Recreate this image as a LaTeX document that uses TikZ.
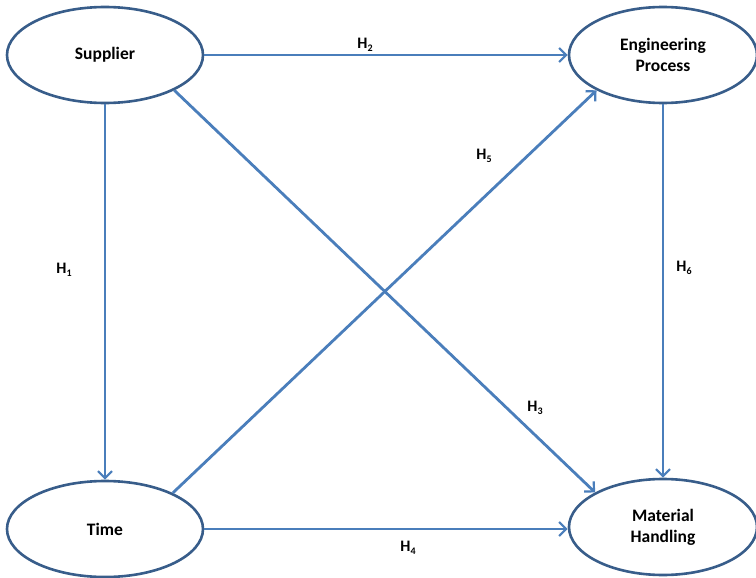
\documentclass[tikz,border=0pt]{standalone}
\usepackage{fontspec}
\setmainfont{Carlito}
\usetikzlibrary{shapes.geometric,arrows.meta}
\definecolor{rim}{RGB}{56,93,138}
\definecolor{link}{RGB}{74,126,187}
\newcommand{\hyp}[1]{H\raisebox{-0.45ex}{\fontsize{10}{10}\selectfont #1}}
\tikzset{
  construct/.style={ellipse, draw=rim, line width=2.6pt, fill=white,
    minimum width=196pt, minimum height=96pt, inner sep=0pt, align=center,
    font=\fontsize{17.5}{21}\selectfont\bfseries},
  path/.style={draw=link, line width=2.8pt,
    -{Straight Barb[length=7pt,width=14pt,line width=2.2pt]}},
  hlabel/.style={font=\fontsize{16}{18}\selectfont\bfseries, inner sep=0pt}
}
\begin{document}
\begin{tikzpicture}[x=1pt,y=-1pt]
  \useasboundingbox (0,0) rectangle (756,578);
  % the four constructs
  \node[construct] (sup) at (105,55) {Supplier};
  \node[construct, minimum width=188pt] (eng) at (663,55) {Engineering\\Process};
  \node[construct] (tim) at (105,529) {Time};
  \node[construct, minimum width=188pt] (mat) at (663,527) {Material\\Handling};
  % hypothesised paths
  \draw[path] (sup.south) -- (tim.north);
  \draw[path] (sup.east) -- (eng.west);
  \draw[path] (sup.-27) -- (mat.153);
  \draw[path] (tim.east) -- (mat.west |- tim.east);
  \draw[path] (tim.28) -- (eng.-152);
  \draw[path] (eng.south) -- (mat.north);
  % path labels
  \node[hlabel] (h1) at (64,270) {\hyp{1}};
  \node[hlabel] (h2) at (365,45) {\hyp{2}};
  \node[hlabel] (h3) at (535,408) {\hyp{3}};
  \node[hlabel] (h4) at (408,548) {\hyp{4}};
  \node[hlabel] (h5) at (484,156) {\hyp{5}};
  \node[hlabel] (h6) at (684,268) {\hyp{6}};
\end{tikzpicture}
\end{document}
